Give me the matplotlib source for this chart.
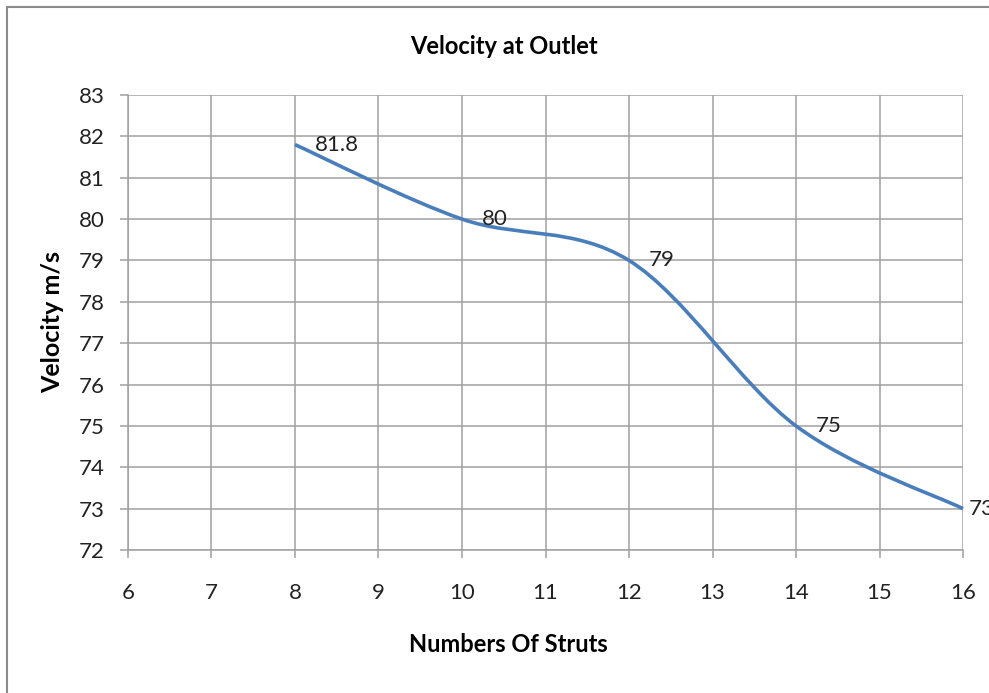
import matplotlib.pyplot as plt
from matplotlib.path import Path
from matplotlib.patches import PathPatch, Rectangle

# data
struts = [8, 10, 12, 14, 16]
velocity = [81.8, 80, 79, 75, 73]
x_ticks = [6, 7, 8, 9, 10, 11, 12, 13, 14, 15, 16]
y_ticks = [72, 73, 74, 75, 76, 77, 78, 79, 80, 81, 82, 83]

plt.rcParams['font.family'] = ['Lato', 'DejaVu Sans']

fig = plt.figure(figsize=(9.89, 6.93), dpi=100)
ax = fig.add_axes([128 / 989, 1 - 550 / 693, 835 / 989, 455 / 693])

# smooth line like Excel: cubic bezier segments through the points
pts = list(zip(struts, velocity))
verts = [pts[0]]
codes = [Path.MOVETO]
for i in range(len(pts) - 1):
    p0 = pts[i - 1] if i > 0 else pts[i]
    p1 = pts[i]
    p2 = pts[i + 1]
    p3 = pts[i + 2] if i + 2 < len(pts) else pts[i + 1]
    c1 = (p1[0] + (p2[0] - p0[0]) / 6, p1[1] + (p2[1] - p0[1]) / 6)
    c2 = (p2[0] - (p3[0] - p1[0]) / 6, p2[1] - (p3[1] - p1[1]) / 6)
    verts += [c1, c2, p2]
    codes += [Path.CURVE4] * 3
ax.add_patch(PathPatch(Path(verts, codes), facecolor='none', edgecolor='#4a7ebb',
                       lw=2.6, capstyle='butt', zorder=3, clip_on=False))

for i, (x, y) in enumerate(zip(struts, velocity)):
    off = 4 if i == len(struts) - 1 else 14
    ax.annotate(f"{y:g}", (x, y), xytext=(off, 0), textcoords='offset points',
                ha='left', va='center', fontsize=16, color='#222222',
                annotation_clip=False)

ax.set_xlim(6, 16)
ax.set_ylim(72, 83)
ax.set_xticks(x_ticks)
ax.set_yticks(y_ticks)
ax.grid(True, color='#a0a0a0', lw=1.1)
ax.set_axisbelow(True)
for s in ['top', 'right']:
    ax.spines[s].set_visible(False)
for s in ['left', 'bottom']:
    ax.spines[s].set_color('#a0a0a0')
    ax.spines[s].set_linewidth(1.1)
ax.tick_params(length=6, width=1.1, color='#a0a0a0', labelsize=16,
               labelcolor='#222222')
ax.tick_params(axis='x', pad=18)
ax.tick_params(axis='y', pad=11)

fig.text(504 / 989, 1 - 47 / 693, "Velocity at Outlet", ha='center', va='center',
         fontsize=17, fontweight='bold')
fig.text(508 / 989, 1 - 645 / 693, "Numbers Of Struts", ha='center', va='center',
         fontsize=17, fontweight='bold')
fig.text(53 / 989, 1 - 322 / 693, "Velocity m/s", ha='center', va='center',
         rotation=90, fontsize=18, fontweight='bold')

# chart area border (cut off at right and bottom)
fig.patches.append(Rectangle((7 / 989, -0.1), 1.2, 1 - 7 / 693 + 0.1,
                             transform=fig.transFigure, fill=False,
                             edgecolor='#8c8c8c', lw=1.5))

fig.savefig('out.png', dpi=100)
